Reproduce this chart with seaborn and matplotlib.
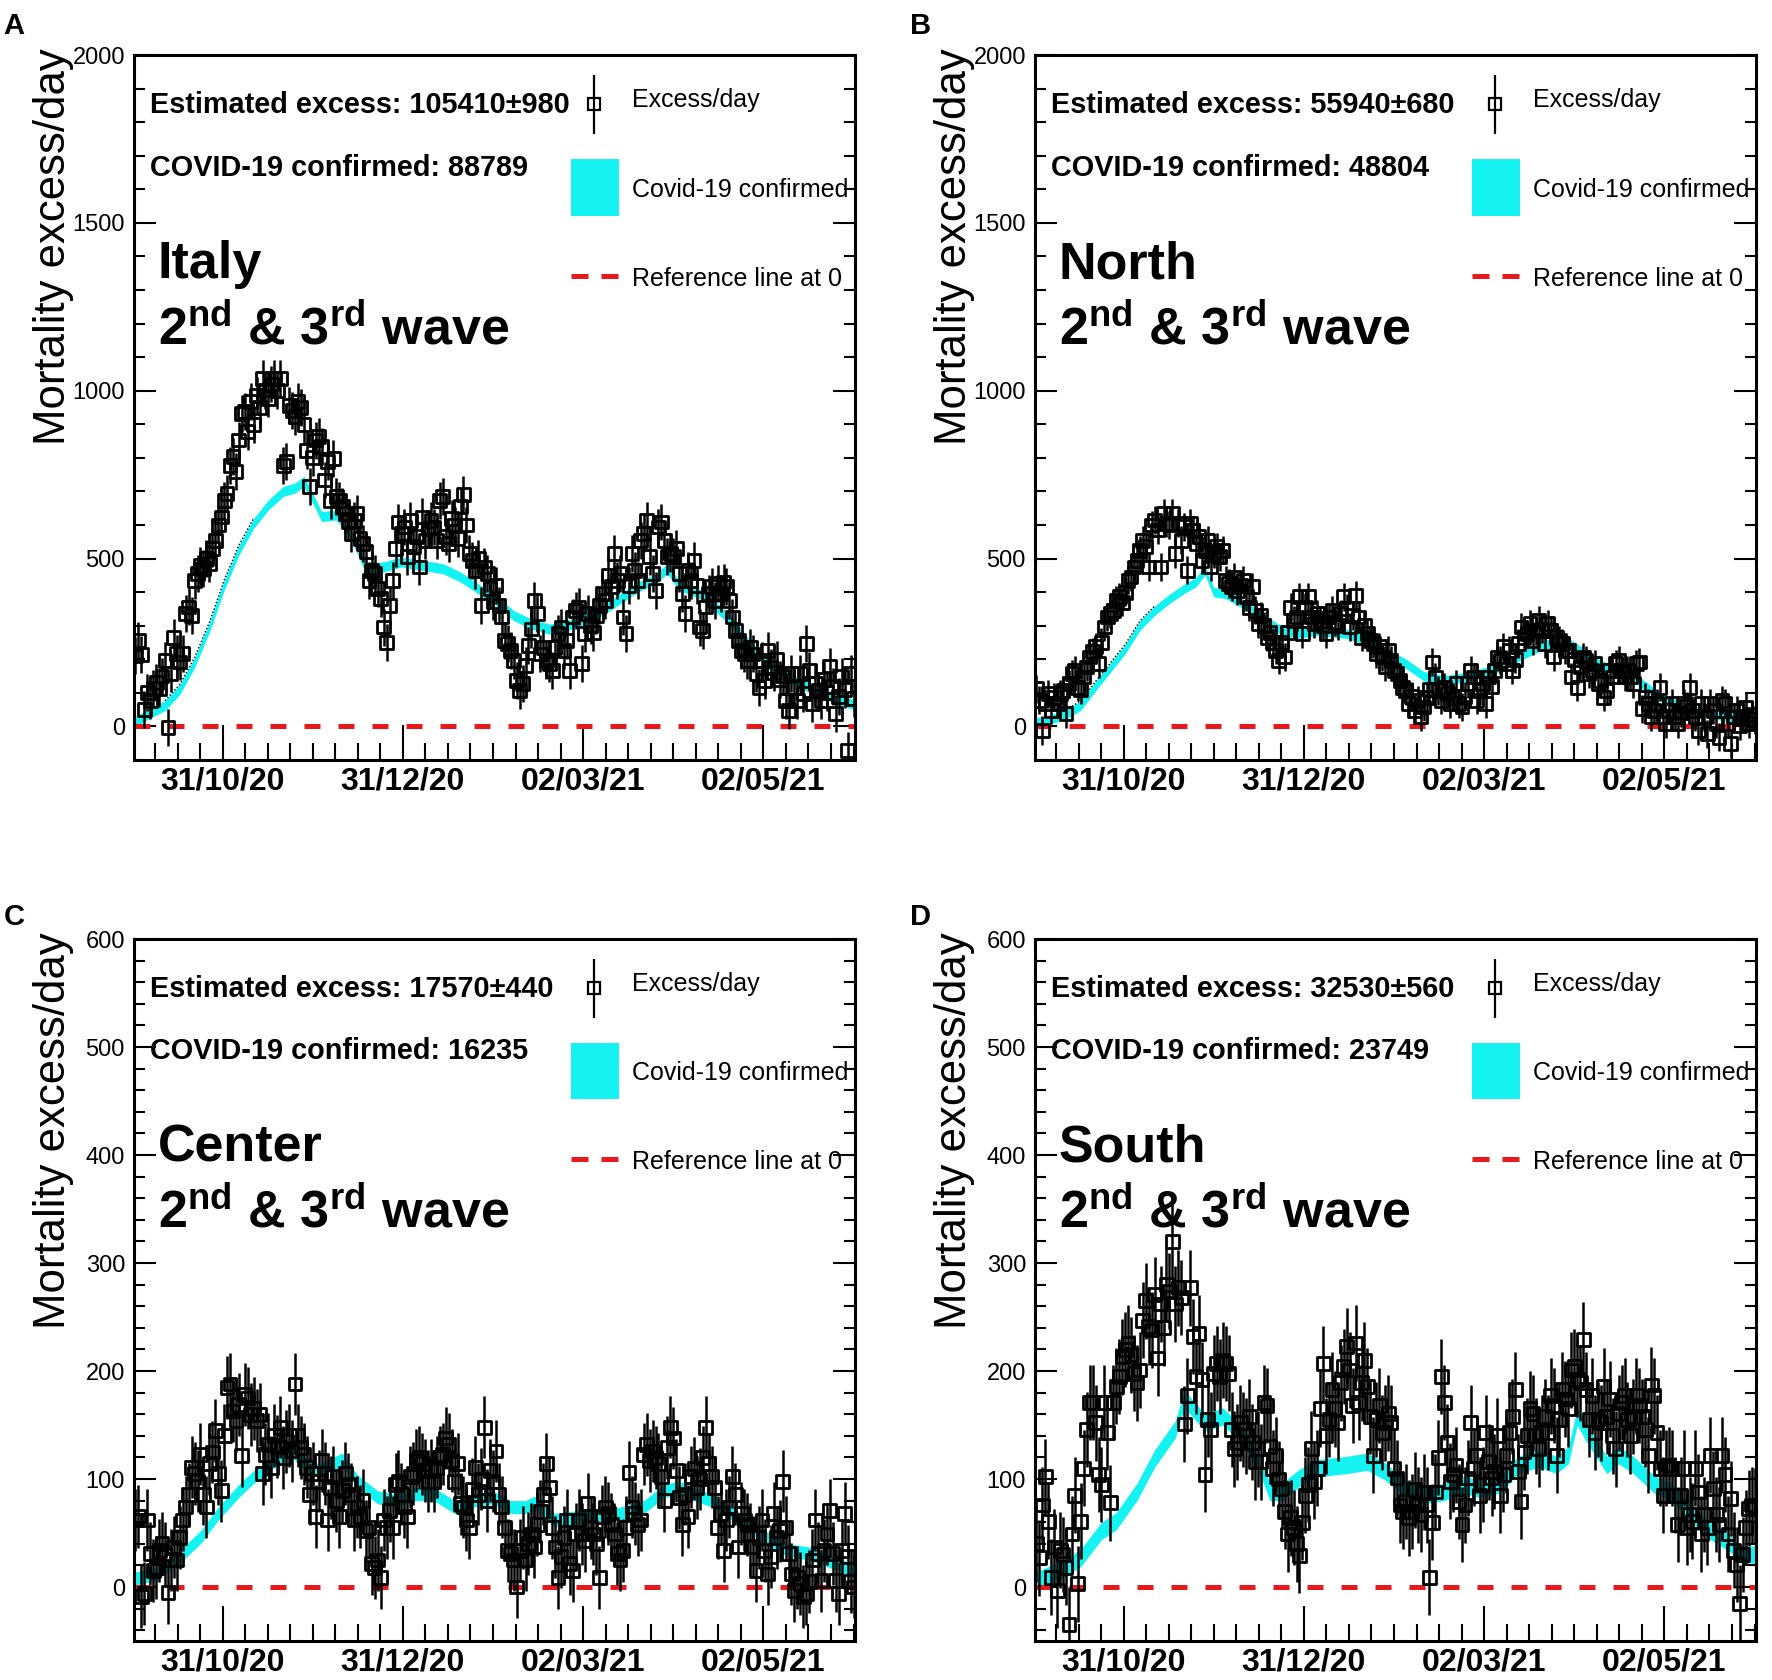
import numpy as np
import pandas as pd
import matplotlib
matplotlib.use("Agg")
import matplotlib.pyplot as plt
import matplotlib.dates as mdates
from matplotlib.ticker import MultipleLocator, FixedLocator
from matplotlib.patches import Rectangle
import seaborn as sns

# ---------------- data ----------------
start_day = "2020-10-01 12:00"

italy_excess = [
    210, 255, 215, 50, 100, 78, 112, 132, 112, 150,
    197, -2, 157, 266, 217, 192, 217, 336, 356, 330,
    435, 455, 480, 470, 500, 485, 530, 555, 600, 624,
    674, 694, 778, 803, 760, 853, 932, 937, 878, 967,
    900, 985, 950, 1037, 1002, 977, 1020, 1037, 1000, 1037,
    778, 790, 957, 940, 922, 967, 950, 900, 823, 714,
    800, 853, 863, 833, 734, 790, 674, 798, 684, 674,
    654, 634, 610, 574, 614, 634, 560, 545, 520, 435,
    465, 455, 410, 380, 296, 250, 361, 435, 530, 609,
    574, 594, 505, 614, 535, 565, 475, 624, 555, 590,
    614, 594, 555, 674, 684, 565, 545, 620, 600, 560,
    655, 690, 600, 515, 495, 465, 500, 361, 475, 455,
    410, 371, 420, 360, 326, 256, 246, 226, 197, 137,
    107, 127, 182, 241, 290, 376, 336, 216, 236, 197,
    187, 167, 236, 276, 296, 226, 256, 167, 326, 346,
    356, 187, 276, 336, 300, 280, 330, 360, 396, 376,
    450, 416, 515, 435, 455, 326, 276, 420, 515, 465,
    435, 555, 574, 614, 505, 455, 406, 594, 609, 555,
    505, 515, 505, 530, 455, 396, 336, 465, 435, 495,
    420, 296, 286, 356, 396, 416, 376, 425, 396, 430,
    416, 376, 326, 286, 256, 226, 216, 197, 236, 216,
    157, 117, 197, 137, 226, 177, 160, 200, 140, 150,
    78, 48, 157, 117, 78, 157, 97, 246, 167, 68,
    127, 107, 78, 140, 100, 180, 120, 38, 90, 150,
    110, -71, 157, 82]
italy_band_days = [0, 5, 10, 15, 20, 25, 30, 35, 40, 45, 50, 54, 57, 60, 63, 68, 73, 78,
                   84, 90, 97, 104, 110, 116, 122, 128, 134, 140, 146, 152, 158, 164,
                   170, 176, 180, 184, 190, 196, 202, 208, 214, 220, 226, 232, 238, 243]
italy_band = [15, 40, 62, 110, 190, 295, 420, 525, 605, 660, 700, 710, 730, 680, 625, 630,
              570, 470, 475, 490, 480, 470, 445, 410, 375, 330, 305, 290, 300, 320, 345,
              380, 415, 440, 470, 420, 400, 360, 310, 240, 190, 150, 125, 100, 80, 65]

north_excess = [
    112, 78, -12, 68, 97, 48, 87, 68, 97, 107,
    38, 127, 157, 167, 117, 110, 147, 177, 207, 222,
    237, 187, 250, 296, 326, 336, 346, 376, 386, 370,
    400, 435, 445, 475, 495, 525, 555, 535, 475, 600,
    615, 585, 475, 636, 605, 600, 636, 515, 605, 555,
    595, 465, 605, 585, 545, 565, 495, 525, 555, 475,
    515, 535, 505, 525, 435, 426, 416, 445, 405, 420,
    435, 386, 355, 416, 346, 306, 330, 300, 266, 280,
    250, 227, 197, 251, 207, 280, 355, 316, 326, 386,
    276, 355, 386, 326, 306, 336, 316, 300, 276, 326,
    346, 310, 300, 336, 386, 351, 296, 330, 390, 326,
    266, 300, 276, 256, 246, 217, 237, 207, 177, 227,
    197, 167, 157, 137, 117, 107, 68, 90, 48, 78,
    28, 58, 87, 110, 192, 147, 107, 78, 117, 97,
    68, 87, 127, 68, 58, 90, 127, 167, 147, 78,
    107, 127, 68, 147, 120, 167, 207, 197, 237, 187,
    227, 167, 200, 247, 296, 266, 276, 306, 256, 286,
    316, 290, 247, 306, 286, 207, 266, 256, 247, 227,
    227, 147, 200, 117, 177, 207, 197, 157, 167, 187,
    127, 137, 87, 107, 167, 147, 187, 197, 167, 147,
    167, 147, 127, 187, 192, 53, 87, 68, 28, 48,
    68, 117, 28, 8, 48, 68, 28, 8, 40, 68,
    60, 117, 48, 28, -12, 68, 28, -22, 68, 48,
    8, -32, 78, 68, 8, -52, 28, 48, 3, 30,
    58, 8, 35, 20]
north_band_days = [0, 5, 10, 15, 20, 25, 30, 35, 40, 45, 50, 54, 57, 60, 64, 70, 76, 82, 88,
                   95, 105, 112, 118, 125, 131, 138, 144, 150, 157, 163, 170, 175, 180, 185,
                   190, 196, 202, 209, 215, 222, 228, 235, 243]
north_band = [12, 22, 36, 62, 120, 175, 230, 300, 345, 380, 410, 430, 465, 400, 395, 365,
              326, 290, 276, 285, 276, 256, 220, 187, 150, 137, 145, 157, 177, 207, 237,
              250, 250, 220, 187, 167, 147, 100, 70, 48, 38, 28, 22]

center_excess = [
    62, 65, -9, -6, 62, 31, 15, 18, 34, 40,
    31, -5, 25, 37, 25, 46, 62, 74, 86, 111,
    105, 98, 123, 86, 74, 114, 125, 145, 105, 89,
    140, 185, 188, 163, 154, 169, 122, 178, 175, 160,
    165, 154, 160, 105, 123, 132, 111, 140, 130, 148,
    120, 135, 140, 126, 188, 140, 129, 123, 111, 86,
    105, 65, 98, 117, 105, 62, 92, 102, 80, 65,
    89, 105, 95, 86, 62, 74, 65, 80, 52, 55,
    22, 18, 25, 9, 62, 55, 71, 55, 95, 98,
    86, 74, 65, 102, 105, 117, 120, 114, 108, 98,
    108, 98, 111, 120, 123, 138, 132, 117, 98, 114,
    77, 74, 62, 55, 90, 111, 86, 100, 148, 80,
    108, 98, 126, 86, 74, 55, 34, 31, 25, 0,
    34, 46, 25, 40, 49, 37, 58, 70, 86, 114,
    92, 55, 37, 9, 28, 46, 62, 22, 15, 49,
    62, 49, 43, 77, 55, 49, 40, 9, 65, 74,
    68, 58, 49, 31, 25, 34, 55, 106, 74, 68,
    58, 62, 123, 132, 117, 126, 120, 114, 102, 80,
    129, 148, 138, 108, 83, 58, 86, 65, 102, 110,
    92, 100, 120, 148, 114, 102, 92, 55, 68, 34,
    62, 74, 102, 86, 37, 68, 62, 58, 49, 37,
    15, 46, 62, 34, 12, 28, 68, 46, 52, 98,
    55, 31, 12, -3, 9, 3, -9, -6, 5, 25,
    62, 31, 6, 34, 49, 71, 31, 6, -6, 34,
    68, 28, 5, 0]
center_band_days = [0, 7, 15, 22, 28, 35, 40, 44, 48, 53, 56, 62, 70, 75, 82, 88, 95, 101,
                    108, 114, 121, 127, 132, 135, 142, 150, 156, 164, 172, 179, 184, 189,
                    195, 202, 208, 215, 221, 228, 234, 243]
center_band = [8, 12, 28, 46, 68, 89, 102, 108, 120, 126, 117, 108, 118, 98, 83, 80, 86, 86,
               74, 80, 83, 74, 74, 78, 62, 65, 65, 68, 74, 89, 92, 86, 80, 68, 55, 43, 34,
               31, 25, 15]

south_excess = [
    40, 27, 76, 102, 61, 9, 37, -3, 34, 30,
    18, -35, 49, 85, 3, 61, 110, 146, 171, 171,
    152, 104, 95, 171, 143, 78, 171, 186, 195, 213,
    220, 226, 215, 198, 189, 201, 247, 265, 241, 238,
    271, 212, 262, 240, 280, 274, 320, 262, 277, 268,
    151, 177, 277, 232, 195, 235, 192, 104, 155, 146,
    198, 207, 195, 210, 207, 198, 146, 128, 134, 152,
    146, 140, 158, 134, 116, 128, 116, 171, 168, 130,
    110, 122, 100, 91, 70, 49, 64, 55, 40, 29,
    60, 85, 95, 128, 98, 110, 165, 207, 140, 155,
    183, 165, 152, 189, 204, 223, 201, 168, 226, 171,
    189, 210, 186, 158, 122, 155, 168, 143, 152, 161,
    152, 110, 101, 76, 70, 79, 64, 70, 90, 76,
    67, 88, 76, 9, 60, 88, 120, 195, 171, 134,
    98, 104, 113, 79, 58, 76, 101, 152, 110, 122,
    85, 95, 143, 116, 101, 107, 140, 85, 104, 122,
    143, 158, 183, 107, 79, 125, 140, 165, 161, 140,
    128, 143, 158, 143, 177, 168, 122, 155, 183, 174,
    165, 201, 204, 192, 189, 229, 183, 155, 177, 143,
    155, 152, 186, 158, 174, 140, 128, 161, 171, 177,
    155, 140, 158, 177, 168, 158, 146, 122, 187, 177,
    143, 110, 85, 110, 113, 110, 85, 58, 85, 110,
    55, 67, 61, 110, 88, 49, 67, 55, 122, 91,
    67, 58, 122, 104, 49, 82, 34, 21, -15, 30,
    55, 73, 76, 75]
south_band_days = [0, 5, 10, 15, 22, 27, 34, 40, 47, 50, 53, 57, 63, 70, 76, 79, 83, 89, 95,
                   105, 112, 118, 125, 131, 138, 144, 150, 157, 163, 170, 176, 180, 183, 186,
                   193, 197, 202, 209, 215, 222, 228, 235, 238, 243]
south_band = [6, 12, 18, 27, 52, 61, 88, 119, 146, 174, 165, 152, 158, 140, 110, 88, 88, 101,
              110, 113, 116, 107, 91, 85, 88, 95, 91, 95, 113, 119, 113, 122, 158, 143, 113,
              122, 113, 95, 88, 67, 52, 40, 30, 30]

panel_letters = ["A", "B", "C", "D"]
region_names = ["Italy", "North", "Center", "South"]
estimated_excess = ["105410\u00b1980", "55940\u00b1680", "17570\u00b1440", "32530\u00b1560"]
covid_confirmed = ["88789", "48804", "16235", "23749"]
excess_error = [55, 42, 29, 35]
band_halfwidth = [15, 14, 6, 8]

tick_dates = ["2020-10-31", "2020-12-31", "2021-03-02", "2021-05-02"]
tick_labels = ["31/10/20", "31/12/20", "02/03/21", "02/05/21"]

# ---------------- style ----------------
sns.set_theme(style="ticks")
plt.rcParams["font.family"] = ["Liberation Sans", "DejaVu Sans"]
plt.rcParams["mathtext.fontset"] = "custom"
plt.rcParams["mathtext.rm"] = "Liberation Sans:bold"
plt.rcParams["mathtext.it"] = "Liberation Sans:bold"
plt.rcParams["mathtext.bf"] = "Liberation Sans:bold"
plt.rcParams["mathtext.default"] = "bf"
plt.rcParams["axes.linewidth"] = 2.2
plt.rcParams["axes.edgecolor"] = "black"
plt.rcParams["text.color"] = "black"
plt.rcParams["axes.labelcolor"] = "black"
plt.rcParams["xtick.color"] = "black"
plt.rcParams["ytick.color"] = "black"

CYAN = "#14f2f2"
RED = "#e8191c"

W, H = 1772, 1680
fig = plt.figure(figsize=(W / 100, H / 100), dpi=100)

ax_w = 721 / W
positions = [
    [134 / W, 1 - 760 / H, ax_w, 705 / H],
    [1035 / W, 1 - 760 / H, ax_w, 705 / H],
    [134 / W, 1 - 1641 / H, ax_w, 702 / H],
    [1035 / W, 1 - 1641 / H, ax_w, 702 / H],
]
letter_pos = [(0.002, 0.993), (0.5135, 0.993), (0.002, 0.4625), (0.5135, 0.4625)]

excess_all = [italy_excess, north_excess, center_excess, south_excess]
band_days_all = [italy_band_days, north_band_days, center_band_days, south_band_days]
band_all = [italy_band, north_band, center_band, south_band]
ylims = [(-100, 2000), (-100, 2000), (-50, 600), (-50, 600)]
ymajor = [500, 500, 100, 100]
yminor = [100, 100, 20, 20]
dotted_edge = [True, True, False, False]

t0 = pd.Timestamp(start_day)
xlim = (pd.Timestamp("2020-10-01"), pd.Timestamp("2021-06-02"))
major_num = mdates.date2num([pd.Timestamp(d) for d in tick_dates])
step = (major_num[1] - major_num[0]) / 8.0
minor_num = major_num[0] + np.arange(-8, 40) * step
lo, hi = mdates.date2num(xlim[0]), mdates.date2num(xlim[1])
minor_num = minor_num[(minor_num >= lo) & (minor_num <= hi)]

for i in range(4):
    ax = fig.add_axes(positions[i])
    vals = np.array(excess_all[i], dtype=float)
    dates = pd.date_range(t0, periods=len(vals), freq="D")
    df = pd.DataFrame({"date": dates, "excess": vals})

    bdays = np.array(band_days_all[i])
    bd = t0 + pd.to_timedelta(bdays, unit="D")
    bv = np.array(band_all[i], dtype=float)
    hw = band_halfwidth[i]
    ax.fill_between(bd, bv - hw, bv + hw, color=CYAN, lw=0, zorder=2)
    if dotted_edge[i]:
        sel = (bdays >= 10) & (bdays <= 40)
        ax.plot(bd[sel], (bv + hw)[sel], color="black", lw=1.0, ls=(0, (1, 1.5)), zorder=2.5)

    ax.axhline(0, color=RED, lw=3.6, dashes=(3.2, 3.6), zorder=3)

    ax.errorbar(df["date"], df["excess"], yerr=excess_error[i], fmt="none",
                ecolor="black", elinewidth=1.8, capsize=0, zorder=4)
    sns.scatterplot(data=df, x="date", y="excess", ax=ax, marker="s", s=85,
                    facecolors="none", edgecolor="black", linewidth=2.0, zorder=5)

    ax.set_xlim(*xlim)
    ax.set_ylim(*ylims[i])
    ax.yaxis.set_major_locator(MultipleLocator(ymajor[i]))
    ax.yaxis.set_minor_locator(MultipleLocator(yminor[i]))
    ax.xaxis.set_major_locator(FixedLocator(major_num))
    ax.xaxis.set_minor_locator(FixedLocator(minor_num))
    ax.set_xticklabels(tick_labels)
    ax.set_xlabel("")
    ax.grid(False)

    ax.tick_params(axis="x", which="major", direction="in", length=25, width=1.5,
                   labelsize=23, pad=5, top=False, bottom=True)
    ax.tick_params(axis="x", which="minor", direction="in", length=12.5, width=1.5,
                   top=False, bottom=True)
    ax.tick_params(axis="y", which="major", direction="in", length=16, width=1.5,
                   labelsize=17, pad=6.5, left=True, right=True)
    ax.tick_params(axis="y", which="minor", direction="in", length=8, width=1.5,
                   left=True, right=True)
    for lab in ax.get_xticklabels():
        lab.set_fontweight("bold")
    for sp in ax.spines.values():
        sp.set_linewidth(2.2)
        sp.set_zorder(10)

    ax.set_ylabel("Mortality excess/day", fontsize=31.5, loc="top")
    ax.yaxis.set_label_coords(-0.083, 1.01)

    # annotations
    ax.text(0.022, 0.918, "Estimated excess: " + estimated_excess[i], transform=ax.transAxes,
            fontsize=20.8, fontweight="bold", va="baseline", ha="left", zorder=6)
    ax.text(0.022, 0.829, "COVID-19 confirmed: " + covid_confirmed[i], transform=ax.transAxes,
            fontsize=20.8, fontweight="bold", va="baseline", ha="left", zorder=6)
    ax.text(0.033, 0.683, region_names[i], transform=ax.transAxes,
            fontsize=37.5, fontweight="bold", va="baseline", ha="left", zorder=6)
    ax.text(0.033, 0.588, "2$^{nd}$ & 3$^{rd}$ wave", transform=ax.transAxes,
            fontsize=37.5, fontweight="bold", va="baseline", ha="left", zorder=6)

    # hand-made legend (ROOT style)
    ax.errorbar([0.638], [0.930], yerr=[[0.042], [0.041]], transform=ax.transAxes,
                fmt="s", mfc="none", mec="black", ms=8, mew=1.6, ecolor="black",
                elinewidth=1.6, clip_on=False, zorder=6)
    ax.text(0.691, 0.926, "Excess/day", transform=ax.transAxes, fontsize=18,
            va="baseline", ha="left", zorder=6)
    ax.add_patch(Rectangle((0.606, 0.772), 0.067, 0.080, transform=ax.transAxes,
                           color=CYAN, lw=0, zorder=6))
    ax.text(0.691, 0.799, "Covid-19 confirmed", transform=ax.transAxes, fontsize=18,
            va="baseline", ha="left", zorder=6)
    ax.plot([0.606, 0.673], [0.687, 0.687], transform=ax.transAxes, color=RED, lw=3.6,
            dashes=(3.4, 2.6), zorder=6)
    ax.text(0.691, 0.673, "Reference line at 0", transform=ax.transAxes, fontsize=18,
            va="baseline", ha="left", zorder=6)

    fig.text(letter_pos[i][0], letter_pos[i][1], panel_letters[i], fontsize=21,
             fontweight="bold", va="top", ha="left")

fig.savefig("out.png", dpi=100)
